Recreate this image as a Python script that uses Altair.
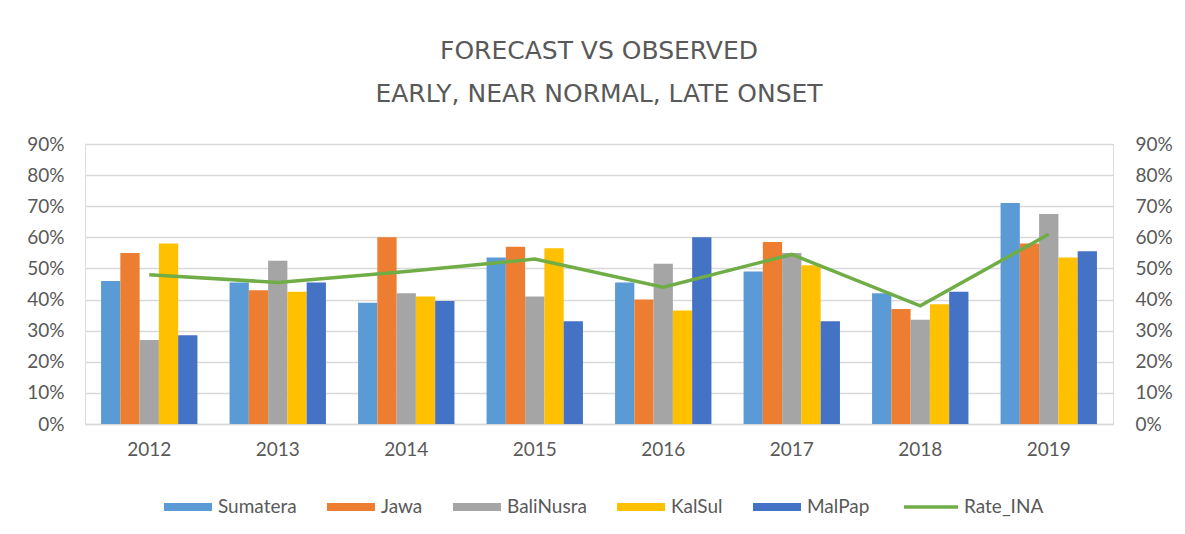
import altair as alt
import pandas as pd

years = ["2012", "2013", "2014", "2015", "2016", "2017", "2018", "2019"]
series = ["Sumatera", "Jawa", "BaliNusra", "KalSul", "MalPap"]
colors = ["#5B9BD5", "#ED7D31", "#A5A5A5", "#FFC000", "#4472C4"]
line_name = "Rate_INA"
line_color = "#70AD47"

sumatera = [0.46, 0.455, 0.39, 0.535, 0.455, 0.49, 0.42, 0.71]
jawa = [0.55, 0.43, 0.60, 0.57, 0.40, 0.585, 0.37, 0.58]
balinusra = [0.27, 0.525, 0.42, 0.41, 0.515, 0.55, 0.335, 0.675]
kalsul = [0.58, 0.425, 0.41, 0.565, 0.365, 0.51, 0.385, 0.535]
malpap = [0.285, 0.455, 0.395, 0.33, 0.60, 0.33, 0.425, 0.555]
rate_ina = [0.48, 0.455, 0.49, 0.53, 0.44, 0.545, 0.38, 0.61]

tick_values = [0, 0.1, 0.2, 0.3, 0.4, 0.5, 0.6, 0.7, 0.8, 0.9]

values_by_series = [sumatera, jawa, balinusra, kalsul, malpap]
rows = []
for name, vals in zip(series, values_by_series):
    for yr, v in zip(years, vals):
        rows.append({"Year": yr, "Series": name, "Value": v})
bars_df = pd.DataFrame(rows)
line_df = pd.DataFrame({"Year": years, "Series": [line_name] * len(years), "Value": rate_ina})

FONT = "Lato"
GRAY = "#595959"
FS = 19
LFS = 19

x_enc = alt.X(
    "Year:N",
    sort=years,
    title=None,
    scale=alt.Scale(paddingInner=0.25, paddingOuter=0.125),
    axis=alt.Axis(labelAngle=0, labelFontSize=FS, labelColor=GRAY, labelFont=FONT,
                  labelPadding=16, ticks=False, domainColor="#D9D9D9", domainWidth=1.5),
)

bars = alt.Chart(bars_df).mark_bar().encode(
    x=x_enc,
    xOffset=alt.XOffset("Series:N", sort=series),
    y=alt.Y(
        "Value:Q",
        title=None,
        scale=alt.Scale(domain=[0, 0.9], nice=False),
        axis=alt.Axis(orient="left", format=".0%", values=tick_values, labelFontSize=FS,
                      labelColor=GRAY, labelFont=FONT, labelPadding=21, ticks=False,
                      domain=False, grid=True, gridColor="#D9D9D9", gridWidth=1.5),
    ),
    color=alt.Color(
        "Series:N",
        sort=series,
        scale=alt.Scale(domain=series, range=colors),
        legend=alt.Legend(orient="none", legendX=79, legendY=339, direction="horizontal",
                          title=None, symbolType="M-1,-0.17H1V0.17H-1Z", symbolSize=2304,
                          symbolStrokeWidth=0, labelFontSize=LFS, labelColor=GRAY,
                          labelFont=FONT, columnPadding=30, labelOffset=6),
    ),
)

line = alt.Chart(line_df).mark_line(strokeWidth=3.5).encode(
    x=alt.X("Year:N", sort=years),
    y=alt.Y(
        "Value:Q",
        title=None,
        scale=alt.Scale(domain=[0, 0.9], nice=False),
        axis=alt.Axis(orient="right", format=".0%", values=tick_values, labelFontSize=FS,
                      labelColor=GRAY, labelFont=FONT, labelPadding=22, ticks=False,
                      domain=False, grid=False),
    ),
    stroke=alt.Stroke(
        "Series:N",
        scale=alt.Scale(domain=[line_name], range=[line_color]),
        legend=alt.Legend(orient="none", legendX=817, legendY=334, direction="horizontal",
                          title=None, symbolType="stroke", symbolSize=2916,
                          symbolStrokeWidth=3.5, labelFontSize=LFS, labelColor=GRAY,
                          labelFont=FONT, labelOffset=4),
    ),
)

chart = (
    alt.layer(bars, line)
    .resolve_scale(y="independent", color="independent")
    .properties(
        width=1028,
        height=280,
        title=alt.TitleParams(
            ["FORECAST VS OBSERVED", "EARLY, NEAR NORMAL, LATE ONSET"],
            fontSize=25, font="DejaVu Sans", color=GRAY, fontWeight="normal",
            lineHeight=43, offset=28, anchor="middle",
        ),
        padding={"left": 18, "top": 31, "right": 0, "bottom": 0},
    )
    .configure_view(stroke=None)
    .configure(background="white")
)

chart.save("out.html", embed_options={"renderer": "svg", "actions": False})
